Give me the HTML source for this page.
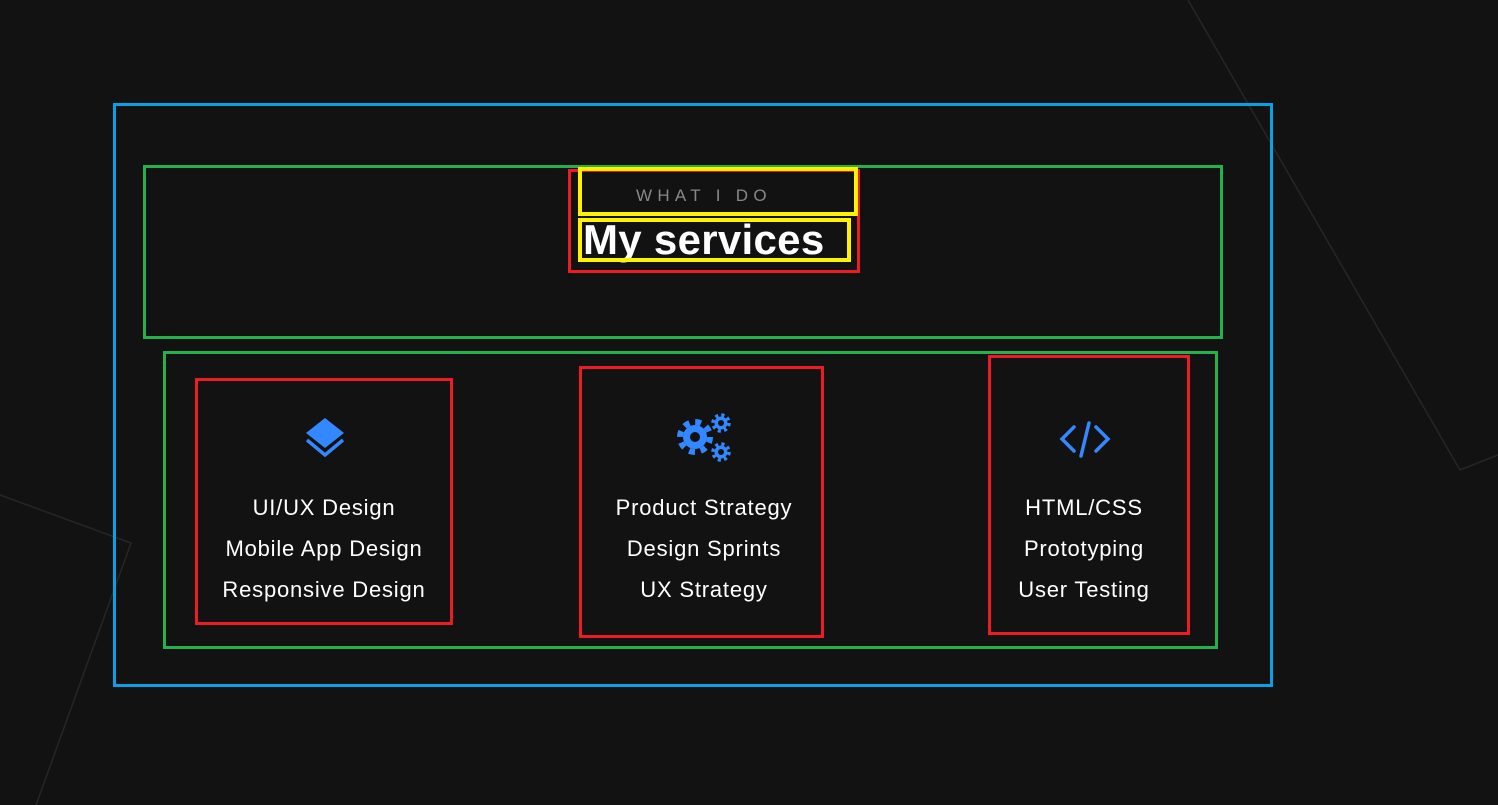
<!DOCTYPE html>
<html><head><style>
body{margin:0;width:1498px;height:805px;background:#121212;position:relative;overflow:hidden;font-family:"Liberation Sans",sans-serif}
.b{position:absolute;box-sizing:border-box}
.t{position:absolute;color:#fff;font-size:22px;letter-spacing:0.8px;text-align:center;line-height:41px;width:300px}
</style></head><body>
<svg class="b" style="left:0;top:0" width="1498" height="805"><polyline points="1188,0 1460,470 1498,455" fill="none" stroke="#262626" stroke-width="1.5"/><polyline points="0,495 131,543 36,805" fill="none" stroke="#262626" stroke-width="1.5"/>
<g fill="#3388ff">
<polygon points="325,418 344,433 325,448 306,433"/>
<polyline points="307,440 325,455 343,440" fill="none" stroke="#3388ff" stroke-width="3.5"/>
<circle cx="695" cy="437" r="12"/>
<circle cx="695" cy="437" r="15" fill="none" stroke="#3388ff" stroke-width="6" stroke-dasharray="5.9 5.9"/>
<circle cx="695" cy="437" r="5" fill="#121212"/>
<circle cx="721" cy="423" r="6.5"/>
<circle cx="721" cy="423" r="8" fill="none" stroke="#3388ff" stroke-width="3.5" stroke-dasharray="3.1 3.2"/>
<circle cx="721" cy="423" r="3" fill="#121212"/>
<circle cx="721" cy="452" r="6.5"/>
<circle cx="721" cy="452" r="8" fill="none" stroke="#3388ff" stroke-width="3.5" stroke-dasharray="3.1 3.2"/>
<circle cx="721" cy="452" r="3" fill="#121212"/>
</g>
<g stroke="#3388ff" stroke-width="3.5" fill="none" stroke-linecap="round"><polyline points="1074,427 1062,439 1074,451"/><polyline points="1096,427 1108,439 1096,451"/><line x1="1089" y1="423" x2="1081" y2="456"/></g>
</svg>
<div class="b" style="left:113px;top:103px;width:1160px;height:584px;border:3px solid #0aa0e6"></div>
<div class="b" style="left:143px;top:165px;width:1080px;height:174px;border:3px solid #22b14c"></div>
<div class="b" style="left:163px;top:351px;width:1055px;height:298px;border:3px solid #22b14c"></div>
<div class="b" style="left:568px;top:169px;width:292px;height:104px;border:3px solid #ed1c24"></div>
<div class="b" style="left:195px;top:378px;width:258px;height:247px;border:3px solid #ed1c24"></div>
<div class="b" style="left:579px;top:366px;width:245px;height:272px;border:3px solid #ed1c24"></div>
<div class="b" style="left:988px;top:355px;width:202px;height:280px;border:3px solid #ed1c24"></div>
<div class="b" style="left:636px;top:186px;color:#888;font-size:17px;letter-spacing:5.3px">WHAT I DO</div>
<div class="b" style="left:583px;top:216px;color:#fff;font-size:42px;font-weight:bold;letter-spacing:0.3px">My services</div>
<div class="b" style="left:578px;top:167px;width:280px;height:49px;border:4px solid #fff200"></div>
<div class="b" style="left:578px;top:218px;width:273px;height:44px;border:4px solid #fff200"></div>
<div class="t" style="left:174px;top:487px">UI/UX Design<br>Mobile App Design<br>Responsive Design</div>
<div class="t" style="left:554px;top:487px">Product Strategy<br>Design Sprints<br>UX Strategy</div>
<div class="t" style="left:934px;top:487px">HTML/CSS<br>Prototyping<br>User Testing</div>
</body></html>
